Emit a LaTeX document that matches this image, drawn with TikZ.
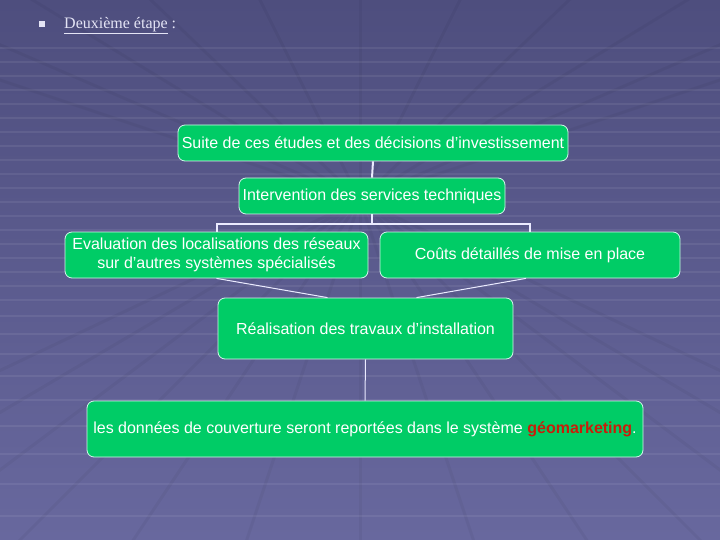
\documentclass[tikz,border=0pt]{standalone}
\usepackage{fontspec}
\setmainfont{Liberation Sans}
\newfontfamily\serifttl{Liberation Serif}
\definecolor{bgtop}{RGB}{78,78,126}
\definecolor{bgbot}{RGB}{104,104,158}
\definecolor{boxgreen}{RGB}{0,204,102}
\definecolor{boxedge}{RGB}{210,245,235}
\definecolor{gredtxt}{RGB}{200,30,10}
\definecolor{ttlcol}{RGB}{228,228,245}
\begin{document}
\begin{tikzpicture}[x=1pt,y=-1pt,
  gbox/.style={draw=boxedge,line width=0.8pt,fill=boxgreen,rounded corners=7pt,
    text=white,font=\fontsize{16}{19}\selectfont,align=center,inner sep=2pt},
  conn/.style={draw=white!92!blue,line width=1pt},
  treeconn/.style={draw=white!92!blue,line width=2pt}]
\useasboundingbox (0,0) rectangle (720,540);
% background
\shade[top color=bgtop,bottom color=bgbot] (0,0) rectangle (720,540);
\foreach \yy in {48,62,76,90,104,118,132,146,160,174,188,202,216,230,244,258,272,286,300,316,334,354,376,400,426,454,484,516}
  \draw[white,opacity=0.07,line width=2pt] (0,\yy) -- (720,\yy);
\foreach \xx in {-400,-250,-120,0,120,240,360,480,600,720,840,970,1120}
  \draw[black,opacity=0.04,line width=3pt] (360,200) -- (\xx,560);
\foreach \xx in {-300,-150,0,130,250,360,470,590,720,870,1020}
  \draw[black,opacity=0.04,line width=3pt] (360,200) -- (\xx,-20);
% title
\fill[ttlcol] (39,21) rectangle (45,27);
\node[anchor=west,text=ttlcol,font=\serifttl\fontsize{16}{18}\selectfont,inner sep=0pt] (ttl) at (64,26) {\underline{Deuxième étape} :};
% boxes
\node[gbox,minimum width=390pt,minimum height=36pt] (b1) at (373,143) {Suite de ces études et des décisions d'investissement};
\node[gbox,minimum width=266pt,minimum height=36pt] (b2) at (372,196) {Intervention des services techniques};
\node[gbox,minimum width=303pt,minimum height=46pt] (b3) at (216.5,255) {Evaluation des localisations des réseaux\\sur d'autres systèmes spécialisés};
\node[gbox,minimum width=300pt,minimum height=46pt] (b4) at (530,255) {Coûts détaillés de mise en place};
\node[gbox,minimum width=295pt,minimum height=61pt] (b5) at (365.5,328.5) {Réalisation des travaux d'installation};
\node[gbox,minimum width=556pt,minimum height=56pt] (b6) at (365,429) {les données de couverture seront reportées dans le système \textcolor{gredtxt}{\bfseries géomarketing}.};
% connectors
\draw[treeconn] (b1.south) -- (b2.north);
\draw[treeconn] (b2.south) -- ([yshift=-10pt]b2.south) -| (b3.north);
\draw[treeconn] ([yshift=-10pt]b2.south) -| (b4.north);
\draw[conn] (b3.south) -- ([xshift=-38pt]b5.north);
\draw[conn] ([xshift=-4pt]b4.south) -- ([xshift=51pt]b5.north);
\draw[conn] (b5.south) -- (b6.north);
\end{tikzpicture}
\end{document}
